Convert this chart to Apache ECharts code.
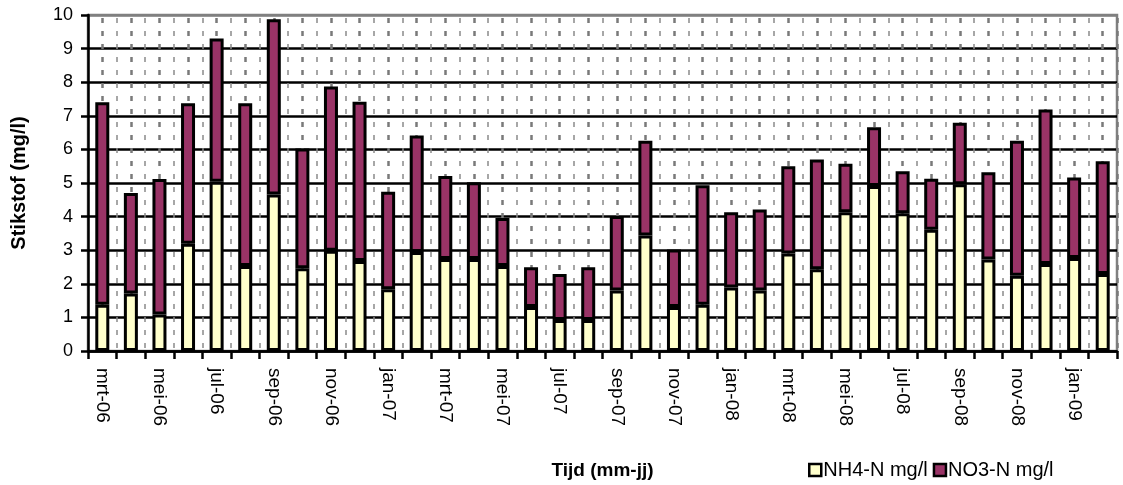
<!DOCTYPE html>
<html>
<head>
<meta charset="utf-8">
<script src="https://cdn.jsdelivr.net/npm/echarts@6/dist/echarts.min.js"></script>
<style>
  html, body { margin: 0; padding: 0; background: #ffffff; }
  #chart { width: 1123px; height: 485px; }
</style>
</head>
<body>
<div id="chart"></div>
<script>
// Monthly samples, March 2006 - February 2009
const months = [
  'mrt-06','apr-06','mei-06','jun-06','jul-06','aug-06','sep-06','okt-06','nov-06','dec-06',
  'jan-07','feb-07','mrt-07','apr-07','mei-07','jun-07','jul-07','aug-07','sep-07','okt-07','nov-07','dec-07',
  'jan-08','feb-08','mrt-08','apr-08','mei-08','jun-08','jul-08','aug-08','sep-08','okt-08','nov-08','dec-08',
  'jan-09','feb-09'
];

// Ammonium nitrogen (mg/l)
const nh4 = [
  1.38, 1.71, 1.09, 3.19, 5.04, 2.53, 4.66, 2.46, 2.98, 2.68,
  1.84, 2.95, 2.74, 2.74, 2.53, 1.31, 0.92, 0.92, 1.80, 3.44, 1.31, 1.38,
  1.89, 1.80, 2.90, 2.43, 4.13, 4.91, 4.10, 3.61, 4.96, 2.72, 2.24, 2.59,
  2.77, 2.29
];

// Nitrate nitrogen (mg/l), stacked on top of NH4-N
const no3 = [
  6.02, 2.99, 4.03, 4.18, 4.26, 4.84, 5.21, 3.57, 4.89, 4.74,
  2.90, 3.46, 2.47, 2.28, 1.43, 1.18, 1.37, 1.57, 2.22, 2.82, 1.71, 3.55,
  2.24, 2.41, 2.60, 3.27, 1.44, 1.75, 1.25, 1.52, 1.83, 2.60, 4.02, 4.60,
  2.39, 3.36
];

const seriesNames = ['NH4-N mg/l', 'NO3-N mg/l'];
const yTicks = { min: 0, max: 10, step: 1 };

// Half-month slots for the dotted vertical grid (two per month)
const halfSlots = months.flatMap((m, i) => [i * 2, i * 2 + 1]);

const FONT = '"Liberation Sans", Arial, sans-serif';

const chart = echarts.init(document.getElementById('chart'), null, { renderer: 'canvas' });

// Horizontal grid: black lines, the top one grey like the frame
const hLineColors = [];
for (let v = yTicks.min; v <= yTicks.max; v += yTicks.step) {
  hLineColors.push(v === yTicks.max ? '#808080' : '#000000');
}

const barStyle = (fill) => ({ color: fill, borderColor: '#000000', borderWidth: 3 });

chart.setOption({
  animation: false,
  backgroundColor: '#ffffff',
  grid: {
    left: 88, right: 6, top: 15, bottom: 130,
    show: true, borderColor: '#808080', borderWidth: 2.5, backgroundColor: 'transparent'
  },
  legend: {
    left: 803, top: 455,
    itemWidth: 12, itemHeight: 12, itemGap: 5,
    icon: 'rect',
    itemStyle: { borderColor: '#000000', borderWidth: 2.5 },
    textStyle: { fontFamily: FONT, fontSize: 20, color: '#000000', padding: [0, 0, 0, -3] },
    data: seriesNames
  },
  xAxis: [
    {
      type: 'category',
      data: months,
      boundaryGap: true,
      name: 'Tijd (mm-jj)',
      nameLocation: 'middle',
      nameGap: 110,
      nameTextStyle: { fontFamily: FONT, fontSize: 19, fontWeight: 'bold', color: '#000000' },
      axisLine: { lineStyle: { color: '#000000', width: 2.5 } },
      axisTick: { show: true, length: 8, interval: 0, lineStyle: { color: '#000000', width: 2.5 } },
      axisLabel: {
        interval: 1, rotate: -90, margin: 17,
        fontFamily: FONT, fontSize: 19, color: '#000000'
      },
      splitLine: {
        show: true, interval: 0,
        lineStyle: { color: '#8a8a8a', width: 1.5, type: [5, 8], dashOffset: -3 }
      }
    },
    {
      type: 'category',
      data: halfSlots,
      boundaryGap: true,
      position: 'top',
      axisLine: { show: false },
      axisTick: { show: false },
      axisLabel: { show: false },
      splitLine: {
        show: true,
        interval: (index) => index % 2 === 1,
        lineStyle: { color: '#7a7a7a', width: 2.5, type: [5, 8], dashOffset: -3 }
      }
    }
  ],
  yAxis: {
    type: 'value',
    min: yTicks.min, max: yTicks.max, interval: yTicks.step,
    name: 'Stikstof (mg/l)',
    nameLocation: 'middle',
    nameGap: 59,
    nameTextStyle: { fontFamily: FONT, fontSize: 20, fontWeight: 'bold', color: '#000000' },
    axisLine: { show: true, lineStyle: { color: '#000000', width: 2.5 } },
    axisTick: { show: true, length: 7, lineStyle: { color: '#000000', width: 2.5 } },
    axisLabel: { margin: 15, fontFamily: FONT, fontSize: 18, color: '#000000' },
    splitLine: { show: true, lineStyle: { color: hLineColors, width: 2.5 } }
  },
  series: [
    {
      name: seriesNames[0],
      type: 'bar',
      stack: 'stikstof',
      xAxisIndex: 0,
      data: nh4,
      barWidth: 14,
      itemStyle: barStyle('#FFFFCC')
    },
    {
      name: seriesNames[1],
      type: 'bar',
      stack: 'stikstof',
      xAxisIndex: 0,
      data: no3,
      barWidth: 14,
      itemStyle: barStyle('#993366')
    }
  ]
});
</script>
</body>
</html>
